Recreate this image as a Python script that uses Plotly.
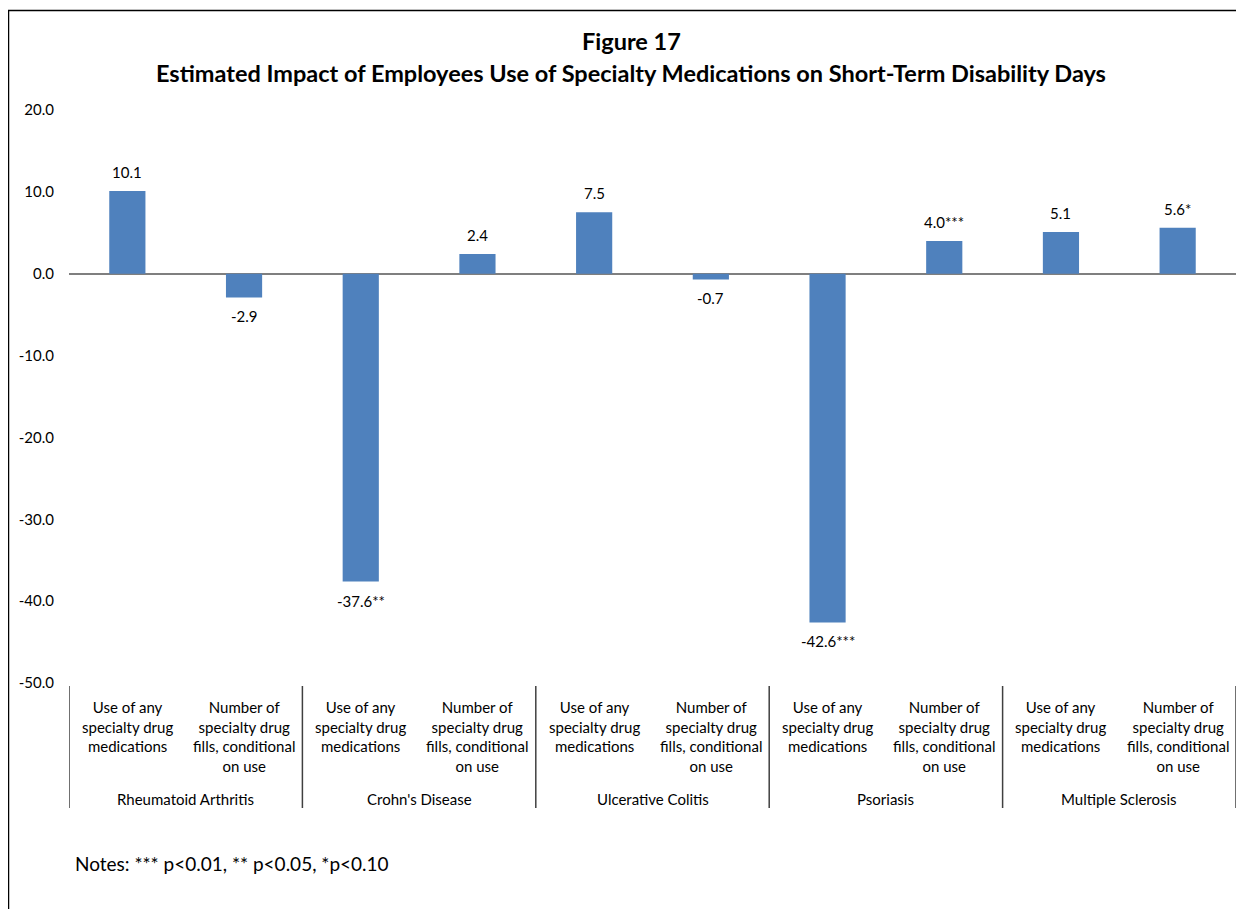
import plotly.graph_objects as go

conditions = ["Rheumatoid Arthritis", "Crohn's Disease", "Ulcerative Colitis", "Psoriasis", "Multiple Sclerosis"]
measures = ["Use of any<br>specialty drug<br>medications", "Number of<br>specialty drug<br>fills, conditional<br>on use"]
values = [10.1, -2.9, -37.6, 2.4, 7.5, -0.7, -42.6, 4.0, 5.1, 5.6]
stars = ["", "", "**", "", "", "", "***", "***", "", "*"]
y_ticks = [-50, -40, -30, -20, -10, 0, 10, 20]

OFF = 8  # page body margin
W, H = 1244 - OFF, 909 - OFF
# reference-pixel geometry of plot area
PL, PR, PT, PB = 69, 1236, 110, 683
L, T = PL - OFF, PT - OFF
R = W - (PR - OFF)
B = H - (PB - OFF)
ph = PB - PT
pw = PR - PL
FONT = "Lato"

def py(pix):
    return (PB - pix) / ph

def px(pix):
    return (pix - PL) / pw

xs = list(range(len(values)))
fig = go.Figure()
fig.add_trace(go.Bar(x=xs, y=values, width=0.31, marker=dict(color="#4F81BD", line=dict(width=0)),
                     hoverinfo="skip"))

ann = []
for x, v, s in zip(xs, values, stars):
    ann.append(dict(x=x, y=v, xref="x", yref="y", text=f"{v:.1f}{s}", showarrow=False,
                    yanchor="bottom" if v >= 0 else "top", yshift=8 if v >= 0 else -8,
                    font=dict(size=15, color="black", family=FONT)))
for i, c in enumerate(conditions):
    for j, m in enumerate(measures):
        ann.append(dict(x=2 * i + j, y=py(696), xref="x", yref="paper", text=m, showarrow=False,
                        yanchor="top", align="center", font=dict(size=15, color="black", family=FONT)))
    ann.append(dict(x=2 * i + 0.5, y=py(799), xref="x", yref="paper", text=c, showarrow=False,
                    yanchor="middle", font=dict(size=15, color="black", family=FONT)))

ann.append(dict(x=px(631), y=py(41), xref="paper", yref="paper", text="<b>Figure 17</b>", showarrow=False,
                xanchor="center", yanchor="middle", font=dict(size=23.5, color="black", family=FONT)))
ann.append(dict(x=px(631), y=py(73), xref="paper", yref="paper",
                text="<b>Estimated Impact of Employees Use of Specialty Medications on Short-Term Disability Days</b>",
                showarrow=False, xanchor="center", yanchor="middle", font=dict(size=23.5, color="black", family=FONT)))
ann.append(dict(x=px(73), y=py(864), xref="paper", yref="paper", text="Notes: *** p<0.01, ** p<0.05, *p<0.10",
                showarrow=False, xanchor="left", yanchor="middle", font=dict(size=19, color="black", family=FONT)))

shapes = []
for k in range(len(conditions) + 1):
    xv = 2 * k - 0.5
    shapes.append(dict(type="line", xref="x", yref="paper", x0=xv, x1=xv, y0=py(686), y1=py(808),
                       line=dict(color="#404040", width=1.5)))
shapes.append(dict(type="rect", xref="paper", yref="paper", x0=px(8.5), x1=px(1270), y0=py(10.5), y1=py(940),
                   line=dict(color="black", width=1.5)))

fig.update_layout(
    width=W, height=H, margin=dict(l=L, r=R, t=T, b=B),
    paper_bgcolor="white", plot_bgcolor="white", showlegend=False,
    annotations=ann, shapes=shapes,
    xaxis=dict(range=[-0.5, 9.5], showticklabels=False, showgrid=False, zeroline=False, showline=False, ticks=""),
    yaxis=dict(range=[-50, 20], tickvals=y_ticks, ticktext=[f"{t:.1f}" for t in y_ticks], showgrid=False,
               zeroline=True, zerolinecolor="#7f7f7f", zerolinewidth=2, showline=False, ticks="",
               ticklabelstandoff=14, tickfont=dict(size=15, color="black", family=FONT)),
    font=dict(family=FONT),
)
fig.write_html("out.html")
